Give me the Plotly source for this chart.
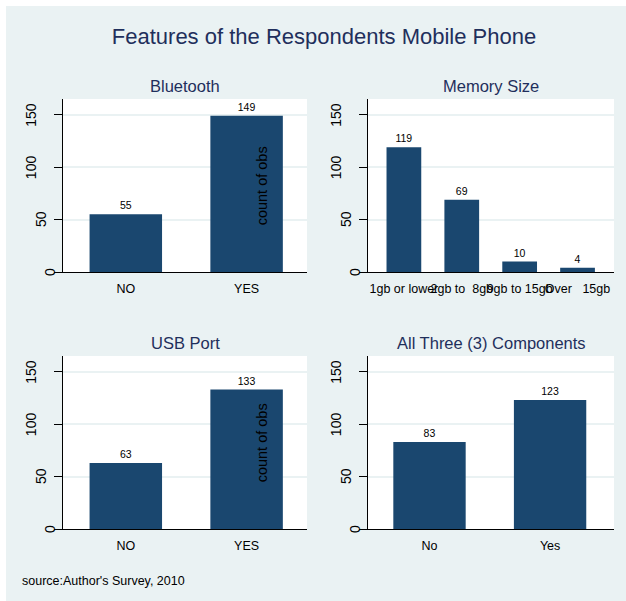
import plotly.graph_objects as go
from plotly.subplots import make_subplots

# =============================================================================
# Data
# =============================================================================

bt_labels = ["NO", "YES"]
bt_counts = [55, 149]

mem_labels = ["1gb or lower", "2gb to\u00a0\u00a08gb", "9gb to 15gb", "Over\u00a0\u00a0\u00a015gb"]
mem_counts = [119, 69, 10, 4]

usb_labels = ["NO", "YES"]
usb_counts = [63, 133]

all_labels = ["No", "Yes"]
all_counts = [83, 123]

y_ticks = [0, 50, 100, 150]

panel_titles = ["Bluetooth", "Memory Size", "USB Port", "All Three (3) Components"]

# =============================================================================
# Style
# =============================================================================

W, H = 626, 601
BG = "#EAF2F3"
BAR = "#1A476F"
NAVY = "#1F2F5C"
FONT = "Liberation Sans, Arial, sans-serif"


def px_x(p):
    return p / W


def px_y(p):
    return 1 - p / H


# plot areas in pixels: (left, right, top, bottom)
boxes = [
    (63, 307, 99, 272),
    (368, 614, 99, 272),
    (63, 307, 356, 529),
    (368, 614, 356, 529),
]
x_ranges = [[-0.52, 1.5], [-0.62, 3.63], [-0.52, 1.5], [-0.51, 1.53]]

fig = make_subplots(rows=2, cols=2, subplot_titles=panel_titles)

series = [(bt_labels, bt_counts), (mem_labels, mem_counts),
          (usb_labels, usb_counts), (all_labels, all_counts)]

for i, (cats, vals) in enumerate(series):
    fig.add_trace(
        go.Bar(
            x=cats,
            y=vals,
            text=[str(v) for v in vals],
            textposition="outside",
            textfont=dict(size=10.5, color="black", family=FONT),
            marker=dict(color=BAR, line=dict(width=0)),
            width=0.6,
            cliponaxis=False,
        ),
        row=i // 2 + 1,
        col=i % 2 + 1,
    )

for i, (l, r, t, b) in enumerate(boxes):
    sfx = "" if i == 0 else str(i + 1)
    fig.layout["xaxis" + sfx].update(
        domain=[px_x(l), px_x(r)],
        range=x_ranges[i],
        showline=True, linecolor="black", linewidth=1,
        ticks="", showgrid=False, tickangle=0, ticklabelstandoff=5,
        tickfont=dict(size=12.5, color="black", family=FONT),
    )
    fig.layout["yaxis" + sfx].update(
        domain=[px_y(b), px_y(t)],
        range=[0, 165],
        tickvals=y_ticks,
        showline=True, linecolor="black", linewidth=1,
        ticks="outside", ticklen=8, tickcolor="black",
        showticklabels=False,
        showgrid=True, gridcolor=BG, gridwidth=1.5, zeroline=False,
    )
    # rotated y labels, Stata-style (shorter labels sit closer to the axis)
    for v in y_ticks:
        s = str(v)
        fig.add_annotation(
            text=s, xref="paper", yref="y" + sfx, x=px_x(l), y=v,
            xanchor="center", yanchor="middle",
            xshift=-(13 + 9.5 * (len(s) - 1)),
            textangle=-90, showarrow=False,
            font=dict(size=14, color="black", family=FONT),
        )
    # subplot titles
    ann = fig.layout.annotations[i]
    ann.update(x=px_x((l + r) / 2), y=px_y(t - 13), yanchor="middle",
               xanchor="center",
               font=dict(size=16.5, color=NAVY, family=FONT))

# stray y-title inside the left-hand panels
for xr, yr in [("x", "y"), ("x3", "y3")]:
    fig.add_annotation(
        text="count of obs", xref=xr, yref=yr, x=1.13, y=82,
        textangle=-90, showarrow=False,
        font=dict(size=14.5, color="black", family=FONT),
    )

fig.add_annotation(
    text="source:Author's Survey, 2010", xref="paper", yref="paper",
    x=px_x(20), y=px_y(581), xanchor="left", yanchor="middle",
    showarrow=False, font=dict(size=12.5, color="black", family=FONT),
)

fig.update_layout(
    title=dict(text="Features of the Respondents Mobile Phone",
               x=px_x(324), y=px_y(36), xanchor="center", yanchor="middle",
               font=dict(size=22, color=NAVY, family=FONT)),
    width=W, height=H,
    margin=dict(l=0, r=0, t=0, b=0),
    paper_bgcolor=BG, plot_bgcolor="white",
    showlegend=False,
    shapes=[
        dict(type="rect", xref="paper", yref="paper", x0=0, x1=px_x(6),
             y0=0, y1=1, fillcolor="white", line=dict(width=0)),
        dict(type="rect", xref="paper", yref="paper", x0=0, x1=1,
             y0=px_y(6), y1=1, fillcolor="white", line=dict(width=0)),
    ],
)

fig.write_html(
    "out.html",
    config={"displayModeBar": False},
    post_script="document.body.style.margin='0px';",
)
